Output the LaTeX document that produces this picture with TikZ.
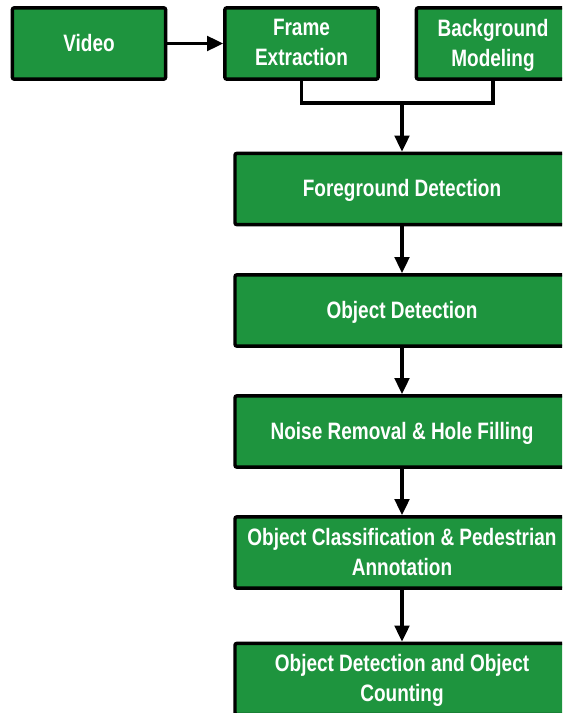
\documentclass[tikz,border=0pt]{standalone}
\usepackage{fontspec}
\setmainfont{Liberation Sans}[FakeStretch=0.8]
\usetikzlibrary{arrows.meta}
\definecolor{boxgreen}{RGB}{30,148,62}

\begin{document}
\begin{tikzpicture}[x=0.75pt,y=-0.75pt,
    stage/.style={draw=black, line width=2.6pt, fill=boxgreen, rounded corners=1.5pt,
        text=white, font=\bfseries\fontsize{17.8}{22.5}\selectfont, align=center,
        minimum height=53.5pt, inner sep=0pt, text depth=1.5pt},
    small/.style={stage, minimum width=115pt},
    wide/.style={stage, minimum width=250.5pt},
    link/.style={line width=2.3pt},
    flow/.style={link, -{Triangle[width=11pt,length=12pt]}}]
    \useasboundingbox (0,0) rectangle (562,713);
    \clip (0,0) rectangle (562,713);

    % input row
    \node[small] (video) at (89,43.5) {Video};
    \node[small] (frame) at (301.5,43.5) {Frame\\Extraction};
    \node[small] (bgmodel) at (493,43.5) {Background\\Modeling};

    % processing chain
    \node[wide] (fgdetect) at (402,189) {Foreground Detection};
    \node[wide] (objdetect) at (402,310.5) {Object Detection};
    \node[wide] (denoise) at (402,431.5) {Noise Removal \& Hole Filling};
    \node[wide] (classify) at (402,552.5) {Object Classification \& Pedestrian\\Annotation};
    \node[wide] (counting) at (402,679) {Object Detection and Object\\Counting};

    \draw[flow] (video) -- (frame);
    \coordinate (merge) at (402,103);
    \draw[link] (frame.south) |- (merge) -| (bgmodel.south);
    \draw[flow] (merge) -- (fgdetect.north);

    \draw[flow] (fgdetect) -- (objdetect);
    \draw[flow] (objdetect) -- (denoise);
    \draw[flow] (denoise) -- (classify);
    \draw[flow] (classify) -- (counting);
\end{tikzpicture}
\end{document}
